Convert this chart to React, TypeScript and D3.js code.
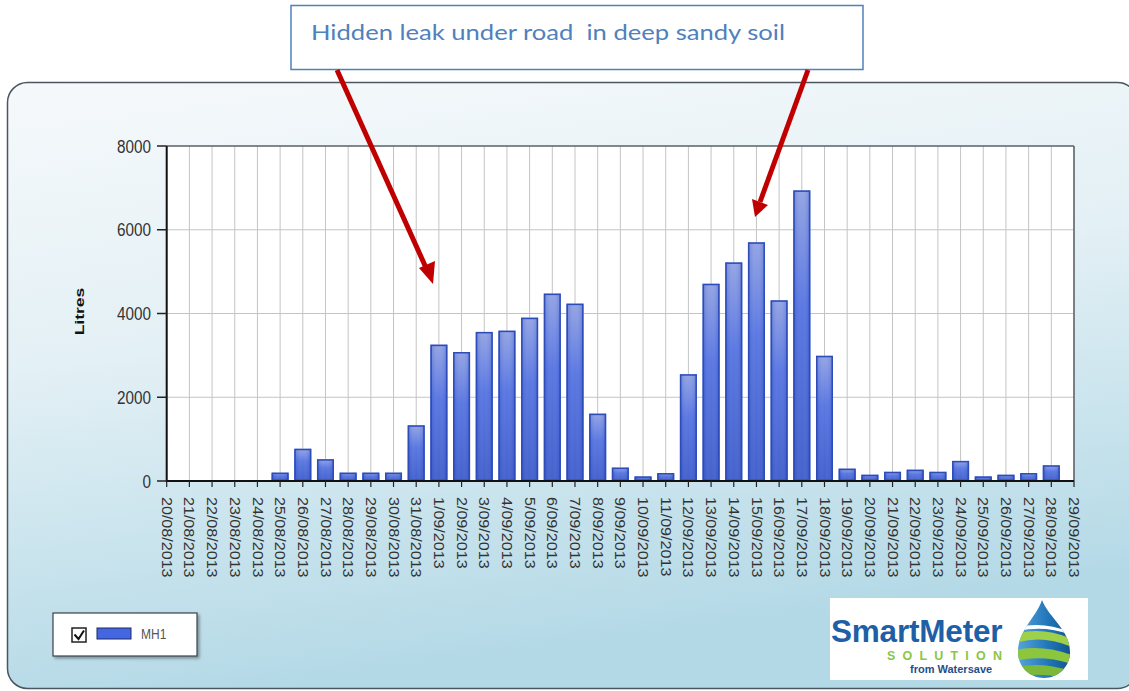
import React from "react";
import * as d3 from "d3";

const categories: string[] = [
  "20/08/2013","21/08/2013","22/08/2013","23/08/2013","24/08/2013","25/08/2013","26/08/2013",
  "27/08/2013","28/08/2013","29/08/2013","30/08/2013","31/08/2013","1/09/2013","2/09/2013",
  "3/09/2013","4/09/2013","5/09/2013","6/09/2013","7/09/2013","8/09/2013","9/09/2013",
  "10/09/2013","11/09/2013","12/09/2013","13/09/2013","14/09/2013","15/09/2013","16/09/2013",
  "17/09/2013","18/09/2013","19/09/2013","20/09/2013","21/09/2013","22/09/2013","23/09/2013",
  "24/09/2013","25/09/2013","26/09/2013","27/09/2013","28/09/2013","29/09/2013",
];

const mh1Values: (number | null)[] = [
  0, 0, 0, 0, 0, 200, 770,
  520, 200, 200, 200, 1330, 3256, 3080,
  3560, 3590, 3900, 4475, 4235, 1608, 320,
  110, 190, 2550, 4710, 5220, 5700, 4315,
  6940, 2990, 295, 150, 220, 270, 220,
  480, 110, 150, 190, 375, null,
];

const yTicks: number[] = [0, 2000, 4000, 6000, 8000];
const seriesName = "MH1";
const yTitle = "Litres";
const annotation = "Hidden leak under road  in deep sandy soil";

export default function App() {
  const W = 1129, H = 691;
  const left = 166.7, right = 1074, top = 146, bottom = 481;
  const x = d3.scalePoint<string>().domain(categories).range([left, right]);
  const y = d3.scaleLinear().domain([0, 8000]).range([bottom, top]);
  const barW = 17;

  const dropPath = "M1042,600 C1049,618 1070,630 1070,652 C1070,667 1058,678 1044,678 C1030,678 1018,667 1018,652 C1018,630 1036,618 1042,600 Z";

  return (
    <svg width={W} height={H} style={{ position: "absolute", left: 0, top: 0 }}
      fontFamily="Arial, 'Liberation Sans', sans-serif">
      <defs>
        <linearGradient id="panelGrad" x1="0" y1="0" x2="0.25" y2="1">
          <stop offset="0" stopColor="#f6f9fb" />
          <stop offset="0.45" stopColor="#e3f0f5" />
          <stop offset="1" stopColor="#b3d9e6" />
        </linearGradient>
        <linearGradient id="barGrad" x1="0" y1="0" x2="0" y2="1">
          <stop offset="0" stopColor="#8c9ee2" />
          <stop offset="0.4" stopColor="#4c6ce0" />
          <stop offset="1" stopColor="#3353c8" />
        </linearGradient>
        <linearGradient id="barSide" x1="0" y1="0" x2="1" y2="0">
          <stop offset="0" stopColor="#2c4bbd" stopOpacity="0.35" />
          <stop offset="0.5" stopColor="#ffffff" stopOpacity="0.08" />
          <stop offset="1" stopColor="#2c4bbd" stopOpacity="0.35" />
        </linearGradient>
        <linearGradient id="dropBlue" x1="0" y1="0" x2="1" y2="0">
          <stop offset="0" stopColor="#5aa6dc" />
          <stop offset="0.6" stopColor="#1e74b8" />
          <stop offset="1" stopColor="#15508a" />
        </linearGradient>
        <filter id="shadow" x="-10%" y="-10%" width="130%" height="140%">
          <feDropShadow dx="2" dy="2" stdDeviation="1.5" floodColor="#000" floodOpacity="0.35" />
        </filter>
        <clipPath id="dropClip"><path d={dropPath} /></clipPath>
      </defs>

      {/* outer panel */}
      <rect x={7.5} y={82.5} width={1130} height={606} rx={20} fill="url(#panelGrad)" stroke="#4b5660" strokeWidth={1.5} />

      {/* plot area */}
      <rect x={left} y={top} width={right - left} height={bottom - top} fill="#ffffff" />
      {categories.map((c) => (
        <line key={"g" + c} x1={x(c)} x2={x(c)} y1={top} y2={bottom} stroke="#c4c4c4" strokeWidth={1} />
      ))}
      {yTicks.filter((t) => t > 0 && t < 8000).map((t) => (
        <line key={"h" + t} x1={left} x2={right} y1={y(t)} y2={y(t)} stroke="#c4c4c4" strokeWidth={1} />
      ))}
      <line x1={left} x2={right} y1={top} y2={top} stroke="#5a6068" strokeWidth={1.5} />
      <line x1={right} x2={right} y1={top} y2={bottom} stroke="#5a6068" strokeWidth={1.5} />

      {/* bars */}
      {categories.map((c, i) => {
        const v = mh1Values[i];
        if (v == null || v <= 0) return null;
        const bx = (x(c) as number) - barW / 2;
        const by = y(v);
        const bh = y(0) - y(v);
        return (
          <g key={"b" + c}>
            <rect x={bx} y={by} width={barW} height={bh} fill="url(#barGrad)" />
            <rect x={bx} y={by} width={barW} height={bh} fill="url(#barSide)" />
            <rect x={bx + 0.75} y={by + 0.75} width={barW - 1.5} height={Math.max(bh - 1.5, 0)} fill="none" stroke="#2d4cb8" strokeWidth={1.5} />
          </g>
        );
      })}

      {/* axes */}
      <line x1={left} x2={left} y1={top} y2={bottom + 1} stroke="#111" strokeWidth={2} />
      <line x1={left} x2={right} y1={bottom} y2={bottom} stroke="#111" strokeWidth={2} />
      {yTicks.map((t) => (
        <g key={"yt" + t}>
          <line x1={157} x2={left} y1={y(t)} y2={y(t)} stroke="#222" strokeWidth={1.5} />
          <text transform={`translate(151,${y(t)}) scale(1,1.2)`} dy="0.36em" textAnchor="end" fontSize={15.3} fill="#333">{t}</text>
        </g>
      ))}
      {categories.map((c) => (
        <g key={"xt" + c}>
          <line x1={x(c)} x2={x(c)} y1={bottom} y2={bottom + 6} stroke="#222" strokeWidth={1.2} />
          <text transform={`translate(${x(c)},${bottom + 16}) scale(1,1.15) rotate(90)`} dy="0.35em" textAnchor="start" fontSize={14} fill="#333">{c}</text>
        </g>
      ))}
      <text transform={`translate(84,${(top + bottom) / 2 - 2}) scale(1,1.3) rotate(-90)`} textAnchor="middle" fontSize={13.5} fontWeight="bold" fill="#111">{yTitle}</text>

      {/* legend */}
      <rect x={53} y={613} width={144} height={43} fill="#ffffff" stroke="#3c4248" strokeWidth={1.2} filter="url(#shadow)" />
      <rect x={72} y={628} width={14} height={14} fill="#fff" stroke="#222" strokeWidth={1.5} />
      <path d="M74.5,634.5 L78.5,639 L84,630.5" fill="none" stroke="#111" strokeWidth={2} />
      <rect x={97} y={628} width={34} height={11} fill="#4466e0" stroke="#1a2a6a" strokeWidth={1} />
      <text transform="translate(141,639) scale(1,1.25)" fontSize={12} fill="#555">{seriesName}</text>

      {/* logo */}
      <rect x={830} y={598} width={258} height={82} fill="#ffffff" />
      <text x={831} y={642} fontSize={31.5} fontWeight="bold" fill="#1f5fa6" letterSpacing={-0.2}>SmartMeter</text>
      <text x={887} y={660} fontSize={12.5} fontWeight="bold" fill="#8cc63f" letterSpacing={7.2}>SOLUTION</text>
      <text x={910} y={673} fontSize={11} fontWeight="bold" fill="#1f4f8a">from Watersave</text>
      <g clipPath="url(#dropClip)">
        <rect x={1016} y={598} width={56} height={82} fill="url(#dropBlue)" />
        <path d="M1015,628 Q1044,620 1074,634 L1074,636 Q1044,624 1015,632 Z" fill="#ffffff" />
        <path d="M1015,634 Q1044,626 1074,640 L1074,648 Q1044,634 1015,643 Z" fill="#9fd04a" />
        <path d="M1015,650 Q1044,644 1074,656 L1074,665 Q1044,654 1015,661 Z" fill="#8cc63f" />
        <path d="M1015,667 Q1044,661 1074,672 L1074,681 Q1044,671 1015,677 Z" fill="#7cb83a" />
      </g>

      {/* annotation */}
      <rect x={291} y={5.5} width={572} height={64} fill="#ffffff" stroke="#4f81bd" strokeWidth={1.5} />
      <text x={311} y={40} fontSize={21} fill="#4f81bd" fontFamily="Lato, 'Open Sans', sans-serif" style={{ whiteSpace: "pre" }} textLength={474} lengthAdjust="spacingAndGlyphs">{annotation}</text>

      {/* arrows */}
      <line x1={337} y1={70} x2={427} y2={270} stroke="#c00000" strokeWidth={5} />
      <path d="M433,284 L419,268 L435,261 Z" fill="#c00000" />
      <line x1={808} y1={70} x2={760} y2={202} stroke="#c00000" strokeWidth={5} />
      <path d="M755,217 L752,199 L768,205 Z" fill="#c00000" />
    </svg>
  );
}
